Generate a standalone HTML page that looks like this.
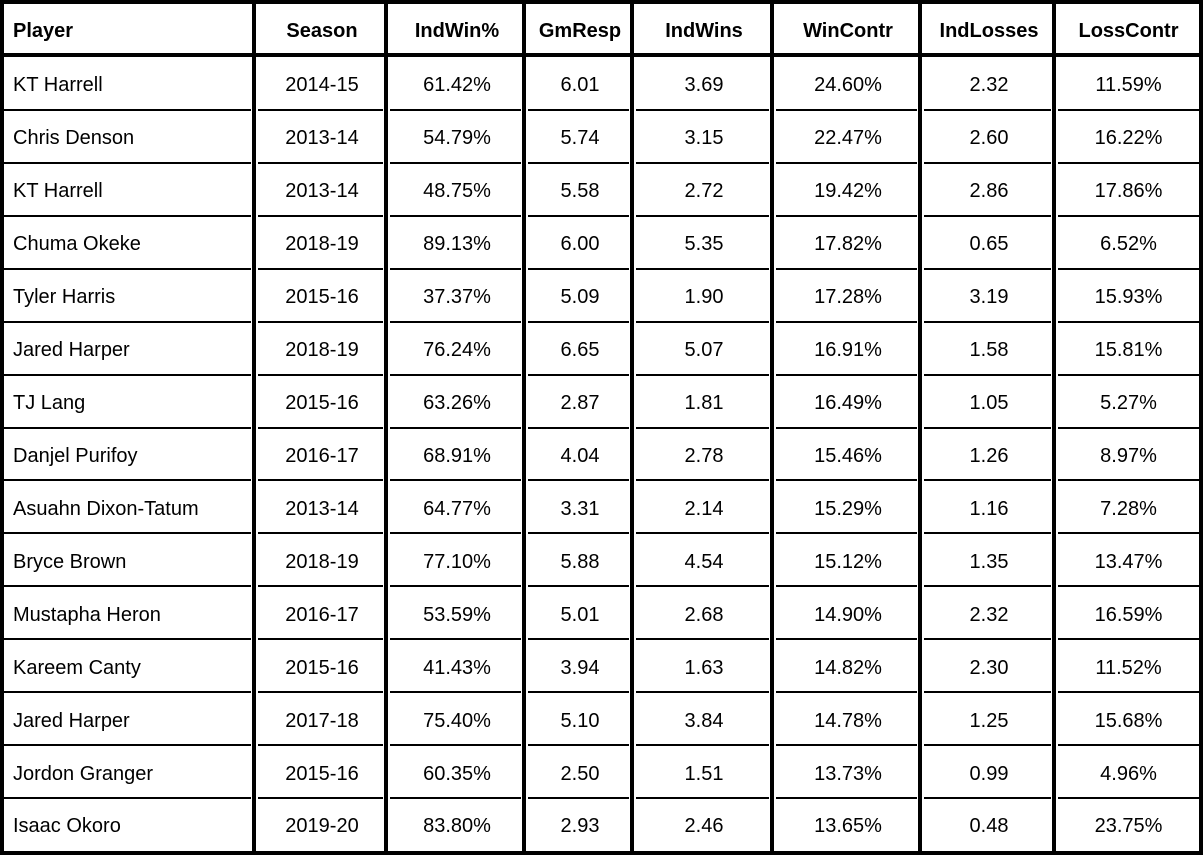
<!DOCTYPE html>
<html><head><meta charset="utf-8">
<style>
html,body{margin:0;padding:0;background:#fff;}
#wrap{position:relative;width:1203px;height:855px;overflow:hidden;font-family:"Liberation Sans",Arial,sans-serif;font-size:20px;color:#000;}
.c{position:absolute;display:flex;align-items:center;white-space:nowrap;box-sizing:border-box;padding-top:5px;}
.l{position:absolute;background:#000;}
</style></head>
<body>
<div id="wrap"></div>
<script>
const headers=["Player","Season","IndWin%","GmResp","IndWins","WinContr","IndLosses","LossContr"];
const rows=[
["KT Harrell","2014-15","61.42%","6.01","3.69","24.60%","2.32","11.59%"],
["Chris Denson","2013-14","54.79%","5.74","3.15","22.47%","2.60","16.22%"],
["KT Harrell","2013-14","48.75%","5.58","2.72","19.42%","2.86","17.86%"],
["Chuma Okeke","2018-19","89.13%","6.00","5.35","17.82%","0.65","6.52%"],
["Tyler Harris","2015-16","37.37%","5.09","1.90","17.28%","3.19","15.93%"],
["Jared Harper","2018-19","76.24%","6.65","5.07","16.91%","1.58","15.81%"],
["TJ Lang","2015-16","63.26%","2.87","1.81","16.49%","1.05","5.27%"],
["Danjel Purifoy","2016-17","68.91%","4.04","2.78","15.46%","1.26","8.97%"],
["Asuahn Dixon-Tatum","2013-14","64.77%","3.31","2.14","15.29%","1.16","7.28%"],
["Bryce Brown","2018-19","77.10%","5.88","4.54","15.12%","1.35","13.47%"],
["Mustapha Heron","2016-17","53.59%","5.01","2.68","14.90%","2.32","16.59%"],
["Kareem Canty","2015-16","41.43%","3.94","1.63","14.82%","2.30","11.52%"],
["Jared Harper","2017-18","75.40%","5.10","3.84","14.78%","1.25","15.68%"],
["Jordon Granger","2015-16","60.35%","2.50","1.51","13.73%","0.99","4.96%"],
["Isaac Okoro","2019-20","83.80%","2.93","2.46","13.65%","0.48","23.75%"]
];
const W=document.getElementById('wrap');
const xs=[0,254,386,524,632,772,920,1054,1203];
const headBottom=57, pitch=52.93;
function rowTop(i){return i===0?4:headBottom+(i-1)*pitch;}
function rowBot(i){return i===0?headBottom-3:headBottom+i*pitch;}
const all=[headers].concat(rows);
for(let r=0;r<all.length;r++){
  for(let c=0;c<8;c++){
    const d=document.createElement('div');
    d.className='c';
    
    
    const x0=xs[c]+4, x1=xs[c+1]-(c===7?4:0);
    d.style.left=x0+'px';d.style.width=(x1-x0)+'px';
    d.style.top=rowTop(r)+'px';d.style.height=(rowBot(r)-rowTop(r))+'px';
    if(c===0){d.style.justifyContent='flex-start';d.style.paddingLeft='9px';}
    else d.style.justifyContent='center';
    if(r===0)d.style.fontWeight='bold';
    d.textContent=all[r][c];
    W.appendChild(d);
  }
}
function line(x,y,w,h,name){const e=document.createElement('div');e.className='l';


e.style.left=x+'px';e.style.top=y+'px';e.style.width=w+'px';e.style.height=h+'px';W.appendChild(e);}
line(0,0,1203,4,'top-border');
line(0,851,1203,4,'bottom-border');
line(0,0,4,855,'left-border');
line(1199,0,4,855,'right-border');
line(0,53,1203,4,'header-divider');
for(let i=1;i<rows.length;i++){
  const y=Math.round(headBottom+i*pitch)-1;
  for(let c=0;c<8;c++){
    const a=xs[c]+4, b=xs[c+1]-(c===7?4:3);
    line(a,y,b-a,2,'row-divider');
  }
}
for(let c=1;c<8;c++) line(xs[c]-2,0,4,855,'column-divider');
</script>
</body></html>
